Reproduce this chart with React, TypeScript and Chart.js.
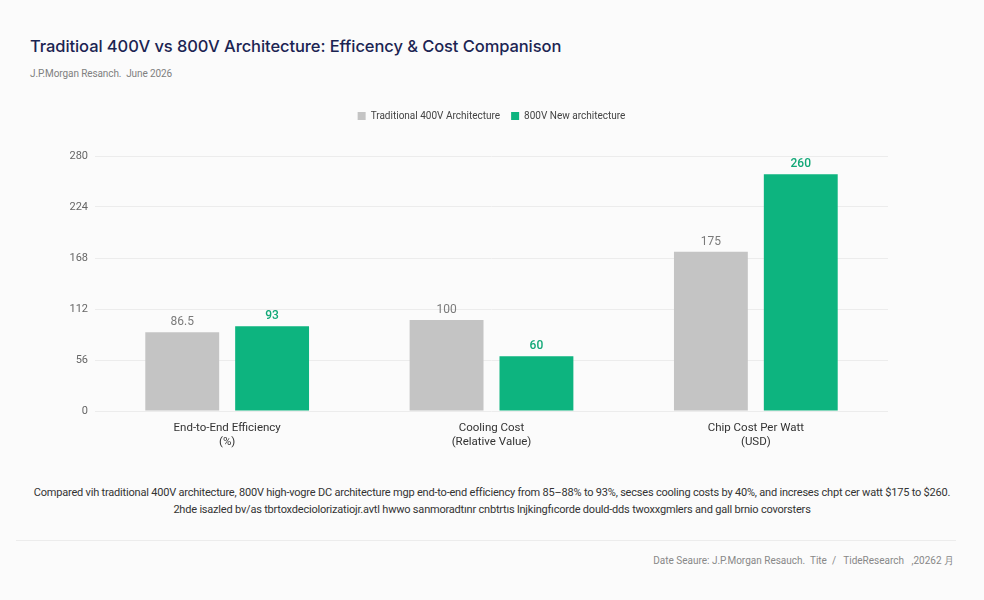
import React, { useEffect, useRef } from "react";
import { Chart, registerables } from "chart.js";

Chart.register(...registerables);

const categories: string[][] = [
  ["End-to-End Efficiency", "(%)"],
  ["Cooling Cost", "(Relative Value)"],
  ["Chip Cost Per Watt", "(USD)"],
];
const traditional400V: number[] = [86.5, 100, 175];
const new800V: number[] = [93, 60, 260];
const seriesNames: string[] = ["Traditional 400V Architecture", "800V New architecture"];
const yTicks: number[] = [0, 56, 112, 168, 224, 280];

const title = "Traditioal 400V vs 800V Architecture: Efficency & Cost Companison";
const subtitle = "J.P.Morgan Resanch.  June 2026";
const note1 =
  "Compared vih traditional 400V architecture, 800V high-vogre DC architecture mgp end-to-end efficiency from 85–88% to 93%, secses cooling costs by 40%, and increses chpt cer watt $175 to $260.";
const note2 =
  "2hde isazled bv/as tbrtoxdeciolorizatiojr.avtl hwwo sanmoradtınr cnbtrtıs lnjkingfıcorde dould-dds twoxxgmlers and gall brnio covorsters";
const source = "Date Seaure: J.P.Morgan Resauch.  Tite  /   TideResearch   ,20262 月";

const GRAY = "#c4c4c4";
const GREEN = "#0db47f";
const FONT = "Roboto, 'Noto Sans', sans-serif";

const valueLabels = {
  id: "valueLabels",
  afterDatasetsDraw(chart: any) {
    const ctx = chart.ctx;
    ctx.save();
    ctx.textAlign = "center";
    ctx.textBaseline = "bottom";
    chart.data.datasets.forEach((ds: any, di: number) => {
      const meta = chart.getDatasetMeta(di);
      meta.data.forEach((bar: any, i: number) => {
        ctx.fillStyle = di === 0 ? "#7a7a7a" : "#11a877";
        ctx.font = di === 0 ? `400 12px ${FONT}` : `500 12px ${FONT}`;
        ctx.fillText(String(ds.data[i]), bar.x, bar.y - 4);
      });
    });
    ctx.restore();
  },
};

const legendPlacement = {
  id: "legendPlacement",
  beforeInit(chart: any) {
    const orig = chart.legend.fit;
    chart.legend.fit = function () {
      orig.call(this);
      this.height = 56;
    };
  },
  afterLayout(chart: any) {
    const lg = chart.legend;
    const shift = (chart.chartArea.left + chart.chartArea.right) / 2 - (lg.left + lg.right) / 2;
    lg.left += shift;
    lg.right += shift;
  },
};

export default function App() {
  const ref = useRef<HTMLCanvasElement | null>(null);
  useEffect(() => {
    if (!ref.current) return;
    const chart = new Chart(ref.current, {
      type: "bar",
      data: {
        labels: categories,
        datasets: [
          {
            label: seriesNames[0],
            data: traditional400V,
            backgroundColor: GRAY,
            borderWidth: 0,
            categoryPercentage: 0.68,
            barPercentage: 0.822,
          },
          {
            label: seriesNames[1],
            data: new800V,
            backgroundColor: GREEN,
            borderWidth: 0,
            categoryPercentage: 0.68,
            barPercentage: 0.822,
          },
        ],
      },
      plugins: [valueLabels, legendPlacement],
      options: {
        animation: false,
        responsive: false,
        maintainAspectRatio: false,
        layout: { padding: { left: 60, right: 96, top: 0, bottom: 0 } },
        plugins: {
          legend: {
            position: "top",
            align: "center",
            labels: {
              boxWidth: 8,
              boxHeight: 8,
              padding: 11,
              color: "#444",
              font: { family: FONT, size: 10 },
            },
          },
          tooltip: { enabled: false },
        },
        scales: {
          x: {
            grid: { display: false, drawTicks: false },
            border: { display: false },
            ticks: {
              padding: 10,
              color: "#333",
              font: { family: FONT, size: 11.5 },
            },
            afterFit(scale: any) {
              scale.height = 49;
            },
          },
          y: {
            min: 0,
            max: 280,
            afterBuildTicks(scale: any) {
              scale.ticks = yTicks.map((v) => ({ value: v }));
            },
            grid: { color: "#ececec", drawTicks: false, lineWidth: 1 },
            border: { display: false },
            ticks: {
              padding: 7,
              color: "#666",
              font: { family: FONT, size: 11 },
            },
            afterFit(scale: any) {
              scale.width = 35;
            },
          },
        },
      },
    });
    return () => chart.destroy();
  }, []);

  return (
    <div
      style={{
        position: "fixed",
        left: 0,
        top: 0,
        width: 984,
        height: 600,
        background: "#fbfbfb",
        fontFamily: FONT,
        overflow: "hidden",
      }}
    >
      <div
        style={{
          position: "absolute",
          left: 30,
          top: 36,
          fontSize: 16.5,
          fontWeight: 500,
          color: "#1b2452",
          letterSpacing: -0.08,
          whiteSpace: "nowrap",
          fontFamily: "Inter, sans-serif",
        }}
      >
        {title}
      </div>
      <div
        style={{
          position: "absolute",
          left: 30,
          top: 68,
          fontSize: 10,
          color: "#808080",
          letterSpacing: -0.1,
          whiteSpace: "pre",
        }}
      >
        {subtitle}
      </div>
      <canvas ref={ref} width={984} height={360} style={{ position: "absolute", left: 0, top: 100 }} />
      <div
        style={{
          position: "absolute",
          left: 0,
          width: 984,
          top: 484,
          textAlign: "center",
          fontSize: 11,
          color: "#333",
          lineHeight: "17px",
          whiteSpace: "nowrap",
          letterSpacing: -0.2,
        }}
      >
        <div>{note1}</div>
        <div>{note2}</div>
      </div>
      <div style={{ position: "absolute", left: 16, right: 28, top: 540, height: 1, background: "#ececec" }} />
      <div
        style={{
          position: "absolute",
          right: 30,
          top: 554,
          fontSize: 10,
          color: "#888",
          whiteSpace: "pre",
        }}
      >
        {source}
      </div>
    </div>
  );
}
